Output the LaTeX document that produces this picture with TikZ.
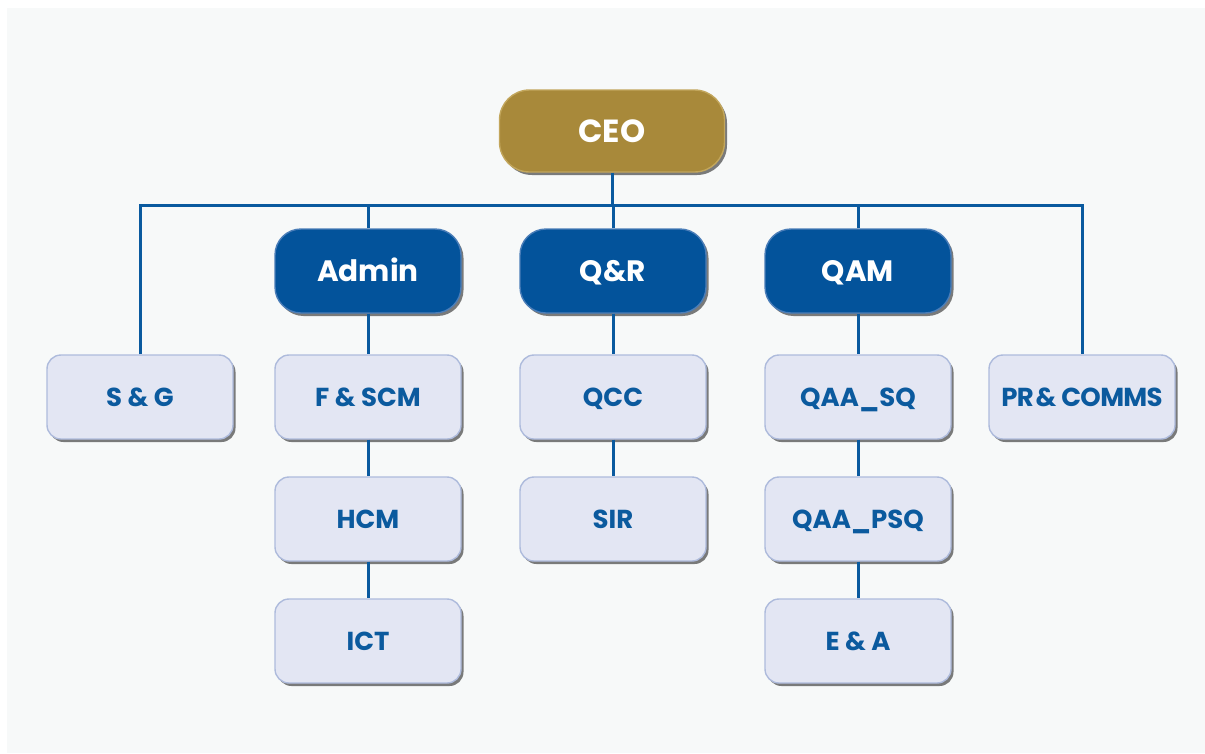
\documentclass[tikz,border=0pt]{standalone}
\usepackage{fontspec}
\setmainfont{Poppins}
\usetikzlibrary{shadows}
\definecolor{panel}{HTML}{F7F9F9}
\definecolor{gold}{HTML}{A8893A}
\definecolor{goldedge}{HTML}{C2A65C}
\definecolor{navy}{HTML}{03539B}
\definecolor{navyedge}{HTML}{4A7DB8}
\definecolor{pale}{HTML}{E3E6F3}
\definecolor{paleedge}{HTML}{AEBBDC}
\definecolor{ink}{HTML}{0B5A9E}
\definecolor{wire}{HTML}{0A5A9F}
\tikzset{
  x=1pt, y=-1pt,
  base/.style={minimum width=186pt, minimum height=84pt, inner sep=0pt,
    line width=1.4pt, text depth=0pt,
    drop shadow={shadow xshift=2.5pt, shadow yshift=-3pt, fill=black!85, opacity=0.6}},
  chief/.style={base, minimum width=225pt, minimum height=82pt, rounded corners=30pt,
    fill=gold, draw=goldedge, text=white, text height=22pt,
    font=\fontsize{32}{32}\selectfont\bfseries},
  unit/.style={base, rounded corners=26pt, fill=navy, draw=navyedge, text=white,
    text height=20.5pt, font=\fontsize{29.5}{30}\selectfont\bfseries},
  office/.style={base, rounded corners=14pt, fill=pale, draw=paleedge, text=ink,
    text height=18pt, font=\fontsize{26}{26}\selectfont\bfseries},
  link/.style={draw=wire, line width=3pt}
}
\begin{document}
\begin{tikzpicture}
\useasboundingbox (0,0) rectangle (1205,753);
\fill[white] (0,0) rectangle (1205,753);
\fill[panel] (7,8) rectangle (1205,753);

% top
\node[chief] (ceo) at (612,131) {CEO};
% second tier
\node[unit] (admin) at (368,271) {Admin};
\node[unit] (qr) at (613,271) {Q\&R};
\node[unit] (qam) at (858,271) {QAM};
% third tier
\node[office] (sg) at (140,397) {S \& G};
\node[office] (fscm) at (368,397) {F \& SCM};
\node[office] (qcc) at (613,397) {QCC};
\node[office] (qaasq) at (858,397) {QAA\_SQ};
\node[office] (pr) at (1082,397) {\addfontfeature{LetterSpace=-2.5}PR\kern-3pt{} \& COMMS};
% lower rows
\node[office] (hcm) at (368,519) {HCM};
\node[office] (ict) at (368,641) {ICT};
\node[office] (sir) at (613,519) {SIR};
\node[office] (qaapsq) at (858,519) {QAA\_PSQ};
\node[office] (ea) at (858,641) {E \& A};

\coordinate (bus) at (612,205);

% reporting lines
\draw[link] (ceo.south) -- (ceo.south |- bus);
\draw[link] (sg.north) -- (sg.north |- bus) -- (pr.north |- bus) -- (pr.north);
\draw[link] (admin.north) -- (admin.north |- bus);
\draw[link] (qr.north) -- (qr.north |- bus);
\draw[link] (qam.north) -- (qam.north |- bus);
\draw[link] (admin.south) -- (fscm.north);
\draw[link] (fscm.south) -- (hcm.north);
\draw[link] (hcm.south) -- (ict.north);
\draw[link] (qr.south) -- (qcc.north);
\draw[link] (qcc.south) -- (sir.north);
\draw[link] (qam.south) -- (qaasq.north);
\draw[link] (qaasq.south) -- (qaapsq.north);
\draw[link] (qaapsq.south) -- (ea.north);
\end{tikzpicture}
\end{document}
